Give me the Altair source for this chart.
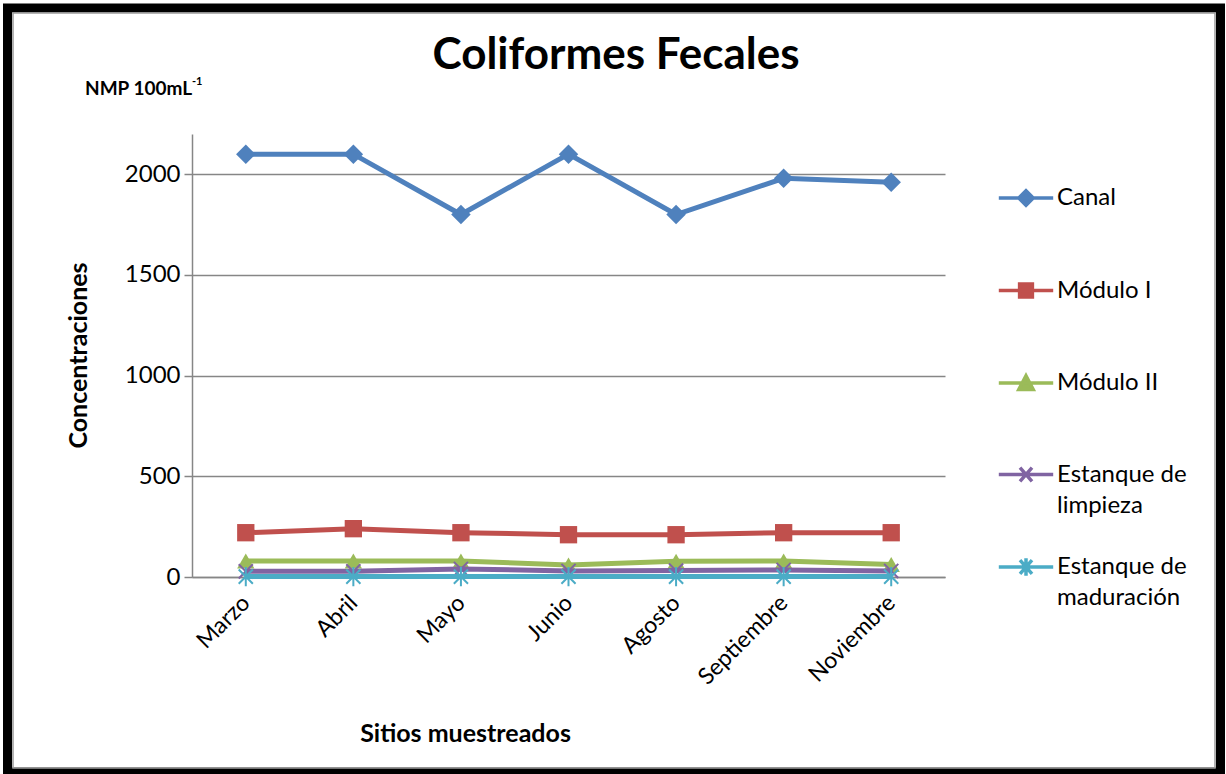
import altair as alt
import pandas as pd

meses = ["Marzo", "Abril", "Mayo", "Junio", "Agosto", "Septiembre", "Noviembre"]
series = ["Canal", "Módulo I", "Módulo II", "Estanque de limpieza", "Estanque de maduración"]
canal = [2100, 2100, 1800, 2100, 1800, 1980, 1960]
modulo_1 = [220, 240, 220, 210, 210, 220, 220]
modulo_2 = [80, 80, 80, 60, 78, 80, 62]
limpieza = [28, 28, 40, 30, 32, 35, 30]
maduracion = [2, 2, 2, 2, 2, 2, 2]
colores = ["#4F81BD", "#C0504D", "#9BBB59", "#8064A2", "#4BACC6"]

valores = [canal, modulo_1, modulo_2, limpieza, maduracion]
rows = []
for s, vals in zip(series, valores):
    for m, v in zip(meses, vals):
        rows.append({"serie": s, "mes": m, "valor": v})
df = pd.DataFrame(rows)

FONT = "Lato"
W, H = 753, 443
PL, PT = 192, 134

# marker styles for plotted points
marker_specs = [
    dict(shape="diamond", filled=True, size=380, strokeWidth=0),
    dict(shape="square", filled=True, size=300, strokeWidth=0),
    dict(shape="triangle-up", filled=True, size=300, strokeWidth=0),
    dict(shape="M-1,-1L1,1M-1,1L1,-1", filled=False, size=200, strokeWidth=2),
    dict(shape="M-1,-1L1,1M-1,1L1,-1M0,-1.35V1.35", filled=False, size=200, strokeWidth=2),
]

# legend symbols (line + marker)
legend_paths = [
    "M-3.4,0H3.4M0,-0.9L0.9,0L0,0.9L-0.9,0Z",
    "M-3.4,0H3.4M-0.8,-0.8H0.8V0.8H-0.8Z",
    "M-3.4,0H3.4M0,-0.9L0.9,0.8H-0.9Z",
    "M-3.4,0H3.4M-0.75,-0.85L0.75,0.85M-0.75,0.85L0.75,-0.85",
    "M-3.4,0H3.4M-0.75,-0.85L0.75,0.85M-0.75,0.85L0.75,-0.85M0,-1.1V1.1",
]

x_enc = alt.X(
    "mes:N",
    sort=meses,
    scale=alt.Scale(type="point", padding=0.5),
    axis=alt.Axis(
        title="Sitios muestreados",
        titleFont=FONT, titleFontSize=25, titleFontWeight="bold", titleColor="black",
        titleX=273, titleY=156, titleAnchor="middle", titleAlign="center", titleBaseline="middle",
        labelAngle=-45, labelAlign="right", labelBaseline="middle",
        labelFont=FONT, labelFontSize=23, labelColor="black", labelPadding=22,
        ticks=False, domainColor="#868686", domainWidth=1.5, grid=False,
    ),
)
y_enc = alt.Y(
    "valor:Q",
    scale=alt.Scale(domain=[0, 2200], nice=False, zero=True),
    axis=alt.Axis(
        title="Concentraciones",
        titleFont=FONT, titleFontSize=25, titleFontWeight="bold", titleColor="black",
        titleAngle=-90, titleX=-114, titleY=221, titleAlign="center", titleBaseline="middle",
        values=[0, 500, 1000, 1500, 2000], format="d",
        labelFont=FONT, labelFontSize=24, labelColor="black", labelPadding=4,
        tickSize=8, tickColor="#868686", tickWidth=1.5,
        domainColor="#868686", domainWidth=1.5,
        grid=True, gridColor="#868686", gridWidth=1.5,
    ),
)

layers = []
for s, c, mk in zip(series, colores, marker_specs):
    base = alt.Chart(df).transform_filter(alt.datum.serie == s)
    layers.append(base.mark_line(color=c, strokeWidth=5).encode(x=x_enc, y=y_enc))
    layers.append(
        base.mark_point(
            shape=mk["shape"], filled=mk["filled"], size=mk["size"],
            color=c, strokeWidth=mk["strokeWidth"], opacity=1,
        ).encode(x=x_enc, y=y_enc)
    )

LEG_X, LEG_Y, ROW_PAD = 822, 52, 63.5
label_expr = "indexof(datum.label, 'Estanque de') == 0 ? ['Estanque de', slice(datum.label, 12)] : datum.label"

# first four legend entries
legend_a = alt.Legend(
    title=None,
    orient="none", legendX=LEG_X, legendY=LEG_Y,
    labelFont=FONT, labelFontSize=24, labelColor="black",
    labelExpr=label_expr,
    symbolSize=256, labelOffset=19, rowPadding=ROW_PAD,
    symbolStrokeWidth=3.5,
)
legend_layer_a = (
    alt.Chart(df)
    .transform_filter("false")
    .mark_point(filled=True, opacity=1, strokeWidth=3.5)
    .encode(
        fill=alt.Fill("serie:N", scale=alt.Scale(domain=series[:4], range=colores[:4]), legend=legend_a),
        stroke=alt.Stroke("serie:N", scale=alt.Scale(domain=series[:4], range=colores[:4]), legend=legend_a),
        shape=alt.Shape("serie:N", scale=alt.Scale(domain=series[:4], range=legend_paths[:4]), legend=legend_a),
    )
)
# last legend entry (placed on the same row spacing)
legend_b = alt.Legend(
    title=None,
    orient="none", legendX=LEG_X, legendY=LEG_Y + 369,
    labelFont=FONT, labelFontSize=24, labelColor="black",
    labelExpr=label_expr,
    symbolSize=256, labelOffset=19,
    symbolType=legend_paths[4], symbolStrokeWidth=3.5,
)
legend_layer_b = (
    alt.Chart(df)
    .transform_filter("false")
    .mark_point(filled=False, opacity=1, strokeWidth=3.5)
    .encode(
        color=alt.Color("serie:N", scale=alt.Scale(domain=series[4:], range=colores[4:]), legend=legend_b),
    )
)

one = pd.DataFrame({"a": [0]})
frame = alt.Chart(one).mark_rect(fill=None, stroke="black", strokeWidth=9).encode(
    x=alt.value(7.5 - PL), x2=alt.value(1220.5 - PL), y=alt.value(8 - PT), y2=alt.value(772 - PT)
)
frame_inner = alt.Chart(one).mark_rect(fill=None, stroke="#9a9a9a", strokeWidth=1.5).encode(
    x=alt.value(13 - PL), x2=alt.value(1215 - PL), y=alt.value(13 - PT), y2=alt.value(768 - PT)
)
titulo = alt.Chart(one).mark_text(
    text="Coliformes Fecales", font=FONT, fontSize=44, fontWeight="bold", align="center",
    baseline="middle", color="black"
).encode(x=alt.value(616 - PL), y=alt.value(56 - PT))
nmp = alt.Chart(one).mark_text(
    text="NMP 100mL", font=FONT, fontSize=19, fontWeight="bold", align="left", baseline="middle", color="black"
).encode(x=alt.value(85 - PL), y=alt.value(89 - PT))
sup = alt.Chart(one).mark_text(
    text="-1", font=FONT, fontSize=11, fontWeight="bold", align="left", baseline="middle", color="black"
).encode(x=alt.value(192 - PL), y=alt.value(82 - PT))

chart = (
    alt.layer(frame, frame_inner, titulo, nmp, sup, *layers, legend_layer_a, legend_layer_b)
    .resolve_scale(color="independent")
    .properties(
        width=W, height=H,
        autosize=alt.AutoSizeParams(type="none"),
        padding={"left": PL, "top": PT, "right": 1226 - PL - W, "bottom": 774 - PT - H},
        background="white",
    )
    .configure(style={"guide-label": {"lineHeight": 31}})
    .configure_view(stroke=None)
)

chart.save("out.html", embed_options={"renderer": "svg", "actions": False})
